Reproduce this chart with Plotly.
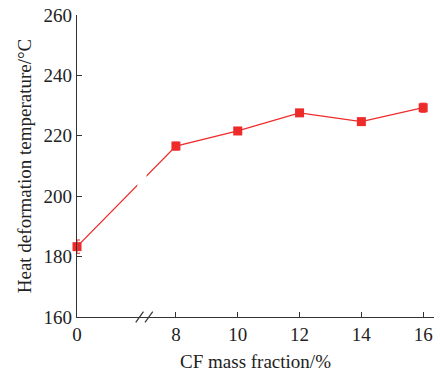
import plotly.graph_objects as go

# data
cf_fraction = [0, 8, 10, 12, 14, 16]
hdt = [183.3, 216.6, 221.6, 227.6, 224.7, 229.3]
hdt_err = [2.2, 1.3, 1.1, 0.6, 0.6, 1.5]
x_tick_labels = ["0", "8", "10", "12", "14", "16"]
y_ticks = [160, 180, 200, 220, 240, 260]

# axis break: values below 8 are shifted so 0 sits at the axis origin
break_shift = 4.8
def xpos(v):
    return v + break_shift if v < 8 else v

xp = [xpos(v) for v in cf_fraction]

red = "#ee2b2b"
axis_col = "#333333"
font = dict(family="Liberation Serif", size=19, color="#222222")

fig = go.Figure()
fig.add_trace(go.Scatter(
    x=xp, y=hdt, mode="lines+markers",
    line=dict(color=red, width=1.3),
    marker=dict(symbol="square", size=9, color=red),
    error_y=dict(type="data", array=hdt_err, color=red, thickness=1, width=3),
    cliponaxis=False, showlegend=False,
))

# white gap in the line at the break
gx0, gx1 = 6.75, 7.05
fig.add_shape(type="rect", xref="x", yref="y", x0=gx0, x1=gx1, y0=150, y1=270,
              fillcolor="white", line_width=0, layer="above")
# // marks on the x axis
for dx in (0, 0.3):
    fig.add_shape(type="line", xref="x", yref="paper",
                  x0=6.7 + dx, x1=6.95 + dx, y0=-0.018, y1=0.018,
                  line=dict(color=axis_col, width=1.2), layer="above")

fig.update_layout(
    width=440, height=377,
    margin=dict(l=77, r=6, t=15, b=60),
    paper_bgcolor="white", plot_bgcolor="white",
    font=font,
    xaxis=dict(range=[4.8, 16.35], tickvals=xp, ticktext=x_tick_labels,
               tickfont=font,
               showline=True, linecolor=axis_col, linewidth=1.2,
               ticks="inside", ticklen=5, tickcolor=axis_col, showgrid=False,
               zeroline=False, title=dict(text="CF mass fraction/%", font=font, standoff=10)),
    yaxis=dict(range=[160, 260], tickvals=y_ticks, tickfont=font,
               showline=True, linecolor=axis_col, linewidth=1.2,
               ticks="inside", ticklen=5, tickcolor=axis_col, showgrid=False,
               zeroline=False, title=dict(text="Heat deformation temperature/°C", font=font, standoff=6)),
)

fig.write_html("out.html")
